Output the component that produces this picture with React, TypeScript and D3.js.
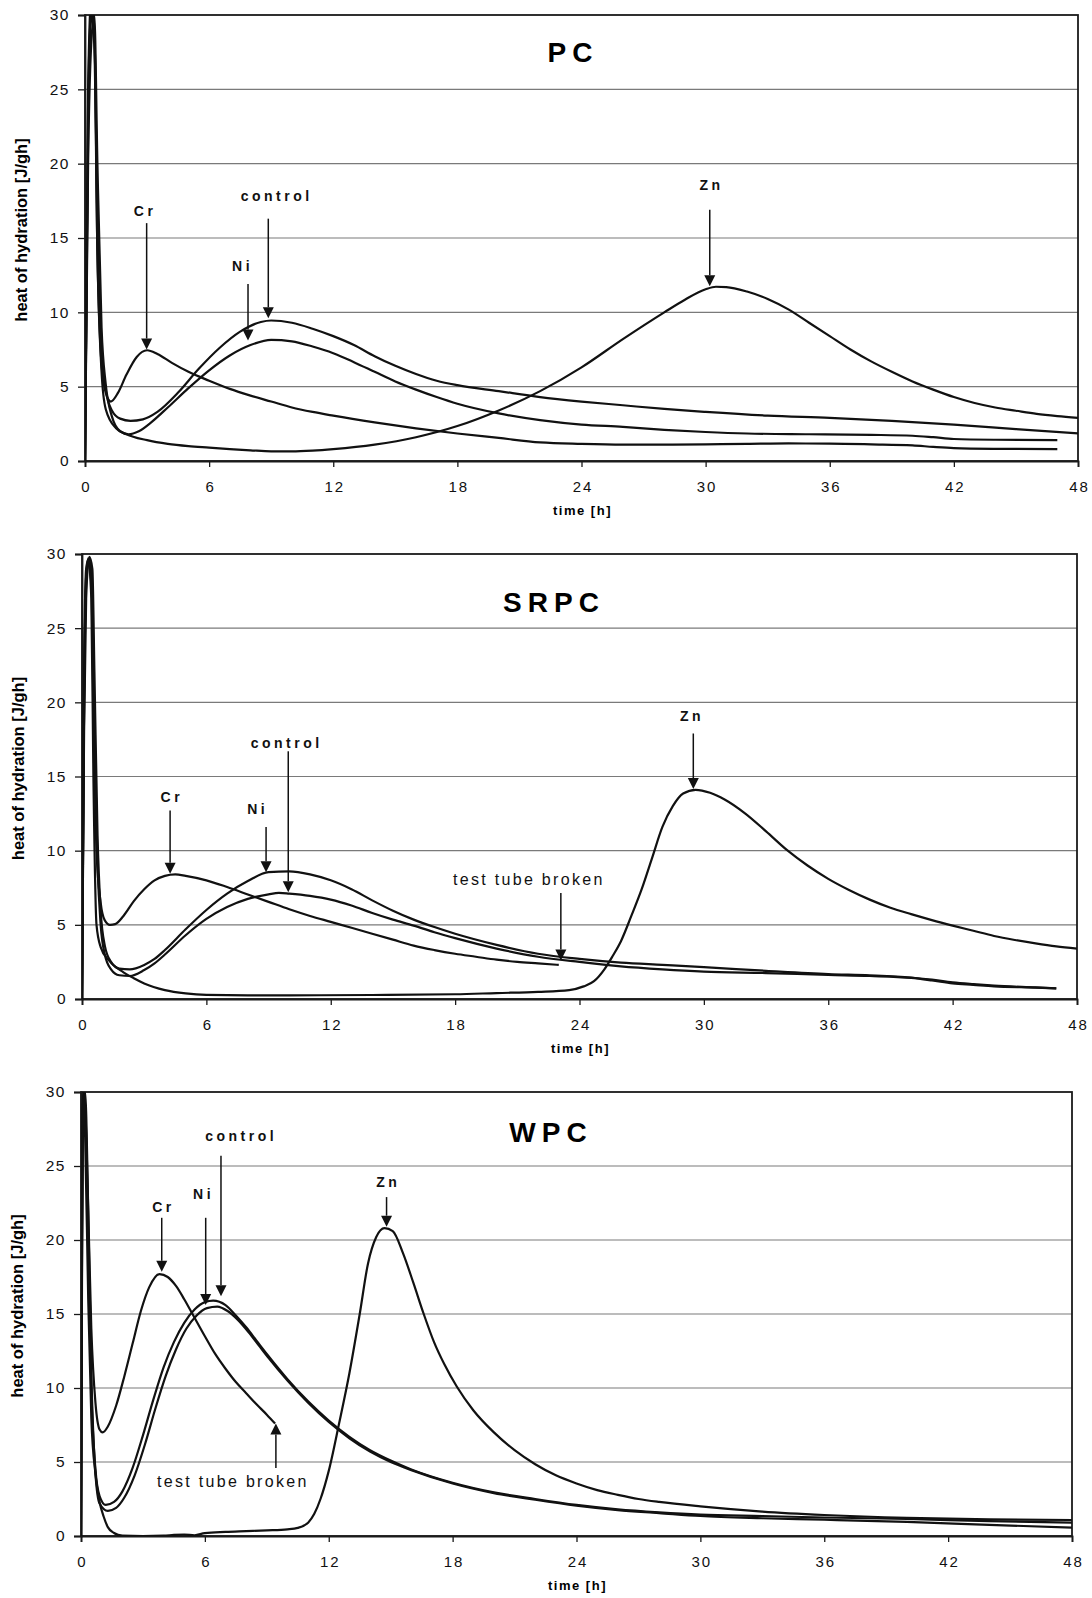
import React, { useEffect, useRef } from 'react'
import * as d3 from 'd3'

type Pt = [number, number]

const hourTicks = [0, 6, 12, 18, 24, 30, 36, 42, 48]
const heatTicks = [0, 5, 10, 15, 20, 25, 30]

// PC
const pcCr: Pt[] = [[0,0],[0.15,22],[0.3,30],[0.45,28],[0.6,14],[0.8,6.5],[1.0,4.6],[1.25,4.0],[1.6,4.6],[2.0,5.8],[2.5,7.0],[3.0,7.45],[3.5,7.2],[4.2,6.6],[5,6.0],[6,5.4],[7,4.85],[8,4.4],[9,4.0],[10,3.6],[11,3.3],[12,3.05],[14,2.6],[16,2.2],[18,1.85],[20,1.55],[22,1.25],[24,1.15],[26,1.1],[28,1.1],[30,1.12],[32,1.15],[34,1.18],[36,1.17],[38,1.12],[40,1.05],[41,0.95],[42,0.87],[44,0.82],[47,0.8]]
const pcControl: Pt[] = [[0,0],[0.15,25],[0.3,31],[0.45,29],[0.6,16],[0.8,7.5],[1.0,4.8],[1.3,3.4],[1.7,2.85],[2.2,2.7],[2.8,2.8],[3.5,3.3],[4.5,4.6],[5.5,6.2],[6.5,7.6],[7.5,8.7],[8.5,9.35],[9,9.45],[10,9.3],[11,8.9],[12,8.4],[13,7.8],[14,7.05],[15,6.4],[16,5.85],[17,5.4],[18,5.1],[20,4.7],[22,4.3],[24,4.0],[26,3.75],[28,3.5],[30,3.3],[33,3.05],[36,2.9],[39,2.7],[42,2.45],[45,2.15],[48,1.86]]
const pcNi: Pt[] = [[0,0],[0.15,20],[0.3,28],[0.45,30],[0.6,20],[0.8,9],[1.0,5.2],[1.3,3.0],[1.7,2.0],[2.1,1.8],[2.6,2.0],[3.2,2.6],[4,3.6],[5,4.9],[6,6.1],[7,7.1],[8,7.8],[9,8.15],[10,8.05],[11,7.7],[12,7.25],[13,6.65],[14,6.0],[15,5.35],[16,4.8],[17,4.3],[18,3.85],[20,3.2],[22,2.75],[24,2.45],[26,2.3],[28,2.1],[30,1.95],[32,1.85],[35,1.8],[38,1.76],[40,1.7],[41,1.6],[42,1.48],[44,1.43],[47,1.41]]
const pcZn: Pt[] = [[0,0],[0.15,24],[0.3,30],[0.45,29],[0.6,14],[0.8,6],[1.0,3.5],[1.5,2.2],[2,1.8],[3,1.4],[4,1.15],[5,1.0],[6,0.9],[7,0.8],[8,0.72],[9,0.65],[10,0.65],[11,0.7],[12,0.8],[14,1.1],[16,1.6],[18,2.35],[20,3.4],[22,4.7],[24,6.3],[26,8.2],[28,10.0],[29,10.85],[30,11.55],[30.5,11.72],[31,11.7],[32,11.4],[33,10.9],[34,10.2],[35,9.3],[36,8.4],[37,7.5],[38,6.7],[39,6.0],[40,5.35],[41,4.8],[42,4.3],[43,3.9],[44,3.6],[45,3.38],[46,3.17],[47,3.02],[48,2.9]]

// SRPC
const srCr: Pt[] = [[0,0],[0.1,20],[0.2,28],[0.3,29.5],[0.45,28],[0.55,20],[0.7,10],[0.9,6.5],[1.1,5.3],[1.35,5.0],[1.6,5.05],[2,5.6],[2.5,6.6],[3,7.4],[3.5,8.0],[4,8.3],[4.5,8.4],[5,8.3],[6,8.0],[7,7.55],[8,7.05],[9,6.55],[10,6.05],[11,5.6],[12,5.2],[13,4.8],[14,4.4],[15,4.0],[16,3.6],[17,3.3],[18,3.05],[19,2.85],[20,2.65],[21,2.5],[22,2.4],[23,2.3]]
const srNi: Pt[] = [[0,0],[0.1,18],[0.2,27],[0.35,29.8],[0.5,29],[0.6,22],[0.75,11],[0.9,6],[1.1,3.6],[1.4,2.5],[1.8,2.05],[2.3,2.0],[3,2.3],[3.5,2.7],[4,3.3],[5,4.7],[6,6.0],[7,7.1],[8,7.95],[9,8.55],[10,8.6],[11,8.4],[12,8.0],[13,7.4],[14,6.65],[15,5.95],[16,5.35],[17,4.85],[18,4.4],[20,3.65],[22,3.05],[24,2.7],[26,2.45],[28,2.3],[30,2.15],[33,1.9],[36,1.68],[38,1.6],[40,1.45],[41,1.3],[42,1.12],[43,1.0],[44,0.9],[46,0.78],[47,0.72]]
const srControl: Pt[] = [[0,0],[0.1,20],[0.2,28.5],[0.3,29.7],[0.45,29],[0.6,18],[0.75,9],[0.9,5],[1.1,3.0],[1.4,2.0],[1.8,1.6],[2.3,1.55],[3,1.95],[3.5,2.4],[4,3.0],[5,4.3],[6,5.4],[7,6.2],[8,6.75],[9,7.05],[9.5,7.15],[10,7.1],[11,6.95],[12,6.7],[13,6.3],[14,5.8],[15,5.35],[16,4.95],[17,4.5],[18,4.1],[20,3.4],[22,2.85],[24,2.5],[26,2.2],[28,2.0],[30,1.85],[33,1.75],[36,1.62],[38,1.55],[40,1.42],[41,1.25],[42,1.05],[43,0.95],[44,0.85],[46,0.77],[47,0.72]]
const srZn: Pt[] = [[0,0],[0.1,22],[0.2,29],[0.3,29.6],[0.45,27],[0.55,15],[0.7,5],[0.9,3.5],[1.3,2.6],[2,1.8],[2.5,1.4],[3,1.05],[4,0.6],[5,0.38],[6,0.28],[8,0.25],[10,0.25],[14,0.27],[18,0.32],[20,0.4],[22,0.48],[23.5,0.6],[24.2,0.85],[24.7,1.2],[25.2,2.0],[25.6,2.9],[26,3.9],[26.5,5.6],[27,7.4],[27.5,9.5],[28,11.6],[28.5,13.0],[29,13.85],[29.6,14.1],[30.3,13.9],[31,13.45],[32,12.5],[33,11.3],[34,10.05],[35,9.0],[36,8.1],[37,7.35],[38,6.7],[39,6.15],[40,5.72],[41,5.32],[42,4.95],[43,4.6],[44,4.25],[45,3.98],[46,3.75],[47,3.55],[48,3.4]]

// WPC
const wCr: Pt[] = [[0,0],[0.05,20],[0.1,30],[0.2,29],[0.35,22],[0.5,14],[0.7,9.0],[0.9,7.2],[1.05,7.0],[1.3,7.4],[1.7,8.8],[2.1,10.8],[2.5,13.0],[2.9,15.2],[3.3,16.8],[3.8,17.7],[4.2,17.5],[4.6,16.9],[5,16.0],[5.4,15.0],[6,13.5],[6.5,12.3],[7,11.3],[7.5,10.4],[8,9.65],[8.5,8.9],[9,8.2],[9.4,7.6]]
const wNi: Pt[] = [[0,0],[0.05,20],[0.1,30],[0.2,29],[0.35,20],[0.5,10],[0.7,4.5],[0.9,2.7],[1.2,2.1],[1.6,2.3],[2,3.0],[2.5,4.6],[3,6.8],[3.5,9.2],[4,11.4],[4.5,13.1],[5,14.4],[5.5,15.3],[6,15.8],[6.4,15.9],[7,15.6],[7.5,14.9],[8,14.1],[8.5,13.2],[9,12.3],[10,10.6],[11,9.1],[12,7.8],[13,6.7],[14,5.8],[15,5.1],[16,4.5],[18,3.6],[20,2.95],[22,2.5],[24,2.1],[26,1.8],[28,1.6],[30,1.45],[33,1.35],[36,1.25],[40,1.15],[44,1.0],[48,0.9]]
const wControl: Pt[] = [[0,0],[0.05,18],[0.1,29],[0.2,30],[0.35,22],[0.5,11],[0.7,4.2],[0.9,2.2],[1.3,1.7],[1.7,1.9],[2.1,2.6],[2.6,4.1],[3.1,6.2],[3.6,8.6],[4.1,10.8],[4.6,12.6],[5.1,14.0],[5.6,14.9],[6.1,15.4],[6.6,15.5],[7.1,15.2],[7.6,14.6],[8.1,13.8],[8.6,12.9],[9.1,12.0],[10,10.5],[11,9.0],[12,7.7],[13,6.6],[14,5.7],[15,5.0],[16,4.45],[18,3.55],[20,2.9],[22,2.45],[24,2.05],[26,1.75],[28,1.55],[30,1.35],[33,1.2],[36,1.1],[40,0.95],[44,0.75],[48,0.57]]
const wZn: Pt[] = [[0,0],[0.05,22],[0.1,30],[0.2,27],[0.35,16],[0.5,8],[0.7,4.2],[0.9,2.3],[1.1,1.3],[1.3,0.6],[1.6,0.2],[2,0.02],[3,0],[4,0.02],[4.5,0.08],[5,0.1],[5.5,0.05],[6,0.2],[7,0.28],[8,0.33],[9,0.38],[10,0.45],[10.5,0.55],[11,0.9],[11.3,1.5],[11.6,2.5],[12,4.4],[12.5,7.6],[13,11.0],[13.5,15.0],[13.9,18.4],[14.3,20.2],[14.7,20.8],[15.1,20.6],[15.6,19.1],[16.1,17.1],[16.6,15.0],[17.1,13.1],[17.6,11.6],[18.2,10.1],[19,8.5],[20,7.0],[21,5.8],[22,4.85],[23,4.1],[24,3.55],[25,3.1],[26,2.78],[27,2.5],[28,2.3],[30,2.0],[33,1.65],[36,1.42],[40,1.22],[44,1.12],[48,1.08]]

// annotations in data units: label baseline (t, v), arrow at t from v0 to v1
const pcNotes = [
  { text: 'Cr', t: 2.82, v: 16.5, at: 2.98, v0: 16.0, v1: 7.5 },
  { text: 'control', t: 9.18, v: 17.5, at: 8.86, v0: 16.3, v1: 9.6 },
  { text: 'Ni', t: 7.53, v: 12.8, at: 7.88, v0: 11.9, v1: 8.1 },
  { text: 'Zn', t: 30.2, v: 18.2, at: 30.2, v0: 16.9, v1: 11.75 },
]
const srNotes = [
  { text: 'Cr', t: 4.25, v: 13.3, at: 4.25, v0: 12.7, v1: 8.45 },
  { text: 'Ni', t: 8.39, v: 12.5, at: 8.88, v0: 11.6, v1: 8.55 },
  { text: 'control', t: 9.79, v: 16.9, at: 9.95, v0: 16.7, v1: 7.2 },
  { text: 'Zn', t: 29.34, v: 18.75, at: 29.49, v0: 17.9, v1: 14.15 },
  { text: 'test tube broken', t: 21.5, v: 7.7, at: 23.1, v0: 7.15, v1: 2.6, plain: true },
]
const wNotes = [
  { text: 'Cr', t: 3.91, v: 21.9, at: 3.91, v0: 21.5, v1: 17.85 },
  { text: 'Ni', t: 5.85, v: 22.8, at: 6.04, v0: 21.5, v1: 15.6 },
  { text: 'control', t: 7.67, v: 26.7, at: 6.78, v0: 25.7, v1: 16.2 },
  { text: 'Zn', t: 14.8, v: 23.6, at: 14.8, v0: 22.9, v1: 20.9 },
  { text: 'test tube broken', t: 7.3, v: 3.3, at: 9.44, v0: 4.6, v1: 7.6, plain: true },
]

const panels = [
  { id: 'pc', title: 'PC', left: 85, right: 1078, top: 15, bottom: 461, titleX: 570, titleY: 62, series: [pcCr, pcControl, pcNi, pcZn], notes: pcNotes },
  { id: 'srpc', title: 'SRPC', left: 82, right: 1077, top: 554, bottom: 999, titleX: 551, titleY: 612, series: [srCr, srNi, srControl, srZn], notes: srNotes },
  { id: 'wpc', title: 'WPC', left: 81, right: 1072, top: 1092, bottom: 1536, titleX: 548, titleY: 1142, series: [wCr, wNi, wControl, wZn], notes: wNotes },
]

const FONT = 'Liberation Sans, Arial, Helvetica, sans-serif'

function App() {
  const ref = useRef<SVGSVGElement | null>(null)

  useEffect(() => {
    const svg = d3.select(ref.current)
    svg.selectAll('*').remove()

    panels.forEach(p => {
      const x = d3.scaleLinear().domain([0, 48]).range([p.left, p.right])
      const y = d3.scaleLinear().domain([0, 30]).range([p.bottom, p.top])
      const g = svg.append('g')

      // grid
      g.selectAll('line.grid')
        .data(heatTicks.filter(v => v > 0 && v < 30))
        .enter()
        .append('line')
        .attr('x1', p.left)
        .attr('x2', p.right)
        .attr('y1', d => y(d))
        .attr('y2', d => y(d))
        .attr('stroke', '#7a7a7a')
        .attr('stroke-width', 1.2)

      // frame
      g.append('rect')
        .attr('x', p.left)
        .attr('y', p.top)
        .attr('width', p.right - p.left)
        .attr('height', p.bottom - p.top)
        .attr('fill', 'none')
        .attr('stroke', '#1a1a1a')
        .attr('stroke-width', 1.8)

      // X axis
      const xAxis = g
        .append('g')
        .attr('transform', `translate(0, ${p.bottom})`)
        .call(d3.axisBottom(x).tickValues(hourTicks).tickSize(6).tickPadding(14))
      xAxis.select('.domain').attr('stroke', '#1a1a1a').attr('stroke-width', 1.8)
      xAxis.selectAll('line').attr('stroke', '#1a1a1a').attr('stroke-width', 1.3)
      xAxis
        .selectAll('text')
        .attr('font-family', FONT)
        .attr('font-size', 15)
        .attr('letter-spacing', 2)
        .attr('dx', 1)
        .attr('fill', '#111')

      // Y axis
      const yAxis = g
        .append('g')
        .attr('transform', `translate(${p.left}, 0)`)
        .call(d3.axisLeft(y).tickValues(heatTicks).tickSize(7).tickPadding(8))
      yAxis.select('.domain').attr('stroke', '#1a1a1a').attr('stroke-width', 1.8)
      yAxis.selectAll('line').attr('stroke', '#1a1a1a').attr('stroke-width', 1.3)
      yAxis
        .selectAll('text')
        .attr('font-family', FONT)
        .attr('font-size', 15.5)
        .attr('letter-spacing', 1.5)
        .attr('fill', '#111')

      // axis titles
      g.append('text')
        .attr('x', (p.left + p.right) / 2 + 1)
        .attr('y', p.bottom + 54)
        .attr('text-anchor', 'middle')
        .attr('font-family', FONT)
        .attr('font-weight', 'bold')
        .attr('font-size', 13)
        .attr('letter-spacing', 1.5)
        .text('time [h]')
      const cy = (p.top + p.bottom) / 2 - 8
      g.append('text')
        .attr('transform', `translate(${p.left - 58}, ${cy}) rotate(-90)`)
        .attr('text-anchor', 'middle')
        .attr('font-family', FONT)
        .attr('font-weight', 'bold')
        .attr('font-size', 16.5)
        .text('heat of hydration [J/gh]')

      // title
      g.append('text')
        .attr('x', p.titleX + 3)
        .attr('y', p.titleY)
        .attr('text-anchor', 'middle')
        .attr('font-family', FONT)
        .attr('font-weight', 'bold')
        .attr('font-size', 28)
        .attr('letter-spacing', 6)
        .text(p.title)

      // curves
      const clipId = `clip-${p.id}`
      svg
        .append('defs')
        .append('clipPath')
        .attr('id', clipId)
        .append('rect')
        .attr('x', p.left)
        .attr('y', p.top)
        .attr('width', p.right - p.left)
        .attr('height', p.bottom - p.top)

      const line = d3
        .line<Pt>()
        .x(d => x(d[0]))
        .y(d => y(d[1]))
        .curve(d3.curveMonotoneX)

      g.append('g')
        .attr('clip-path', `url(#${clipId})`)
        .selectAll('path')
        .data(p.series)
        .enter()
        .append('path')
        .attr('d', d => line(d))
        .attr('fill', 'none')
        .attr('stroke', '#111')
        .attr('stroke-width', 2.2)
        .attr('stroke-linejoin', 'round')

      // annotations
      p.notes.forEach((n: any) => {
        const spacing = n.plain ? 2.3 : 3.5
        g.append('text')
          .attr('x', x(n.t) + spacing / 2)
          .attr('y', y(n.v))
          .attr('text-anchor', 'middle')
          .attr('font-family', FONT)
          .attr('font-weight', n.plain ? 'normal' : 'bold')
          .attr('font-size', n.plain ? 16 : 14)
          .attr('letter-spacing', spacing)
          .attr('fill', '#111')
          .text(n.text)
        const ax = x(n.at)
        const y0 = y(n.v0)
        const y1 = y(n.v1)
        const dir = y1 > y0 ? 1 : -1
        const head = 11
        g.append('line')
          .attr('x1', ax)
          .attr('x2', ax)
          .attr('y1', y0)
          .attr('y2', y1 - dir * head)
          .attr('stroke', '#111')
          .attr('stroke-width', 1.5)
        g.append('path')
          .attr('d', `M${ax},${y1} L${ax - 5.5},${y1 - dir * head} L${ax + 5.5},${y1 - dir * head} Z`)
          .attr('fill', '#111')
      })
    })
  }, [])

  return (
    <svg
      ref={ref}
      width={1092}
      height={1598}
      style={{ position: 'absolute', left: 0, top: 0, background: '#fff' }}
    />
  )
}

export default App
